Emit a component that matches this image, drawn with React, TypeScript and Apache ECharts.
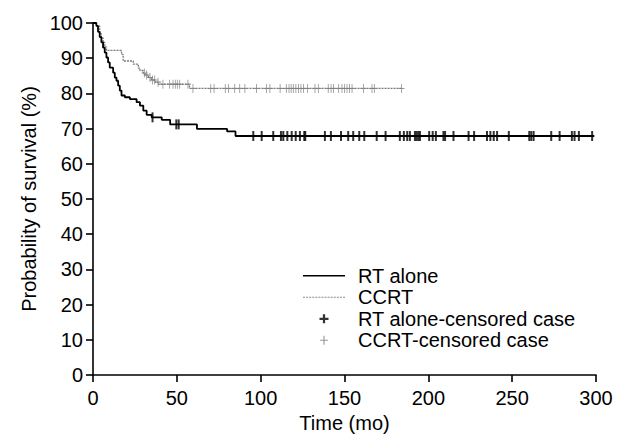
import React, { useEffect, useRef } from "react";
import * as echarts from "echarts";

// Kaplan-Meier step data (time in months, survival %)
const rtTimes = [0, 2, 3, 4, 5, 6, 7, 8, 9, 10, 12, 13, 14, 15, 16, 17, 19, 22, 26, 28, 30, 32, 35, 41, 46, 62, 80, 85, 299];
const rtSurv = [100, 99.2, 97.5, 96, 94.5, 93, 91.6, 90.2, 88.8, 87.3, 85.9, 84.5, 83.6, 82.2, 80.8, 79.4, 78.9, 78.4, 77.5, 76.5, 75.1, 73.9, 73.2, 72.5, 71.2, 69.9, 69.2, 67.9, 67.9];

const ccrtTimes = [0, 2, 4, 5, 6, 7, 8, 17, 18, 24, 27, 28, 30, 31, 33, 35, 37, 39, 57.5, 184];
const ccrtSurv = [100, 99.2, 97, 95.8, 94.5, 93.2, 92.2, 91.1, 89.2, 88.3, 87.2, 86.5, 85.8, 85.2, 84.5, 83.8, 83.2, 82.6, 81.4, 81.4];

// censored cases (time in months)
const rtCensor = [35.5, 49.7, 51.1, 95.6, 100.6, 107.5, 112.1, 113.5, 115.9, 118.5, 120.9, 123.4, 126, 126.6, 138.3, 141.9, 147.9, 152.2, 155.2, 158.8, 161.8, 169.2, 174.5, 183, 185.4, 187.4, 189, 192, 193, 194, 195, 200.5, 202.6, 204.5, 209, 210, 215, 224, 227.3, 235, 237, 239, 241, 248, 260.2, 261.4, 262.8, 273.3, 278.3, 285.6, 287.2, 289.8, 297.7];
const ccrtCensor = [30.8, 32, 34, 35.5, 36.8, 38.8, 41.7, 45.7, 47.7, 49.1, 50.3, 51.7, 56.6, 59.6, 70.2, 72.2, 78.9, 80.8, 84.5, 87.5, 90.6, 97.5, 103.5, 105.5, 111.6, 115.3, 116.9, 118.2, 119.5, 121, 122.6, 124, 125.6, 128, 132.4, 134.4, 140.3, 142, 143.5, 146.5, 148.5, 150, 151.5, 153, 154.5, 161.3, 166.4, 167.8, 184];

const xTicks = { min: 0, max: 300, interval: 50 };
const yTicks = { min: 0, max: 100, interval: 10 };

const seriesNames = ["RT alone", "CCRT", "RT alone-censored case", "CCRT-censored case"];

function survAt(times: number[], surv: number[], t: number): number {
  let v = surv[0];
  for (let i = 0; i < times.length; i++) {
    if (times[i] <= t) v = surv[i];
  }
  return v;
}

const FONT = "Liberation Sans, Arial, sans-serif";

function dottedIcon(): string {
  let d = "path://M0,0h0.01v1.2h-0.01z";
  for (let x = 0; x < 42; x += 3) d += `M${x},0h2v1.2h-2z`;
  return d;
}

export default function App() {
  const ref = useRef<HTMLDivElement>(null);
  useEffect(() => {
    if (!ref.current) return;
    const chart = echarts.init(ref.current, undefined, { renderer: "svg" });
    const rtLine = rtTimes.map((t, i) => [t, rtSurv[i]]);
    const ccrtLine = ccrtTimes.map((t, i) => [t, ccrtSurv[i]]);
    const rtMarks = rtCensor.map((t) => [t, survAt(rtTimes, rtSurv, t)]);
    const ccrtMarks = ccrtCensor.map((t) => [t, survAt(ccrtTimes, ccrtSurv, t)]);
    const plusBlack = "path://M3,0h2v8h-2zM0,3h8v2h-8z";
    const plusGrey = "path://M3,0h1v8h-1zM0,3.5h7v1h-7z";
    const solidIcon = "path://M0,0h42v1.6h-42z";
    chart.setOption({
      animation: false,
      backgroundColor: "#ffffff",
      textStyle: { fontFamily: FONT },
      grid: { left: 93, right: 35, top: 23, bottom: 71, containLabel: false },
      legend: {
        orient: "vertical",
        left: 298,
        top: 260,
        itemWidth: 42,
        itemHeight: 9,
        itemGap: 0,
        selectedMode: false,
        textStyle: { fontFamily: FONT, fontSize: 20, color: "#000", lineHeight: 21.5, padding: [0, 0, 0, 8] },
        data: [
          { name: seriesNames[0], icon: solidIcon, itemStyle: { color: "#000" } },
          { name: seriesNames[1], icon: dottedIcon(), itemStyle: { color: "#8a8a8a" } },
          { name: seriesNames[2], icon: plusBlack },
          { name: seriesNames[3], icon: plusGrey },
        ],
      },
      xAxis: {
        type: "value",
        min: xTicks.min,
        max: xTicks.max,
        interval: xTicks.interval,
        name: "Time (mo)",
        nameLocation: "middle",
        nameGap: 38,
        nameTextStyle: { fontFamily: FONT, fontSize: 20, color: "#000" },
        axisLine: { lineStyle: { color: "#000", width: 1.6 } },
        axisTick: { inside: false, length: 7, lineStyle: { color: "#000", width: 1.6 } },
        axisLabel: { fontFamily: FONT, fontSize: 20, color: "#000", margin: 13 },
        splitLine: { show: false },
      },
      yAxis: {
        type: "value",
        min: yTicks.min,
        max: yTicks.max,
        interval: yTicks.interval,
        name: "Probability of survival (%)",
        nameLocation: "middle",
        nameGap: 43,
        nameRotate: 90,
        nameTextStyle: { fontFamily: FONT, fontSize: 20, color: "#000" },
        axisLine: { show: true, lineStyle: { color: "#000", width: 1.6 } },
        axisTick: { show: true, inside: false, length: 7, lineStyle: { color: "#000", width: 1.6 } },
        axisLabel: { fontFamily: FONT, fontSize: 20, color: "#000", margin: 10 },
        splitLine: { show: false },
      },
      series: [
        {
          name: seriesNames[0],
          type: "line",
          step: "end",
          symbol: "none",
          data: rtLine,
          lineStyle: { color: "#000", width: 1.8 },
          itemStyle: { color: "#000" },
          z: 3,
        },
        {
          name: seriesNames[1],
          type: "line",
          step: "end",
          symbol: "none",
          data: ccrtLine,
          lineStyle: { color: "#7a7a7a", width: 1.3, type: [2, 1] },
          itemStyle: { color: "#7a7a7a" },
          z: 2,
        },
        {
          name: seriesNames[2],
          type: "scatter",
          symbol: "rect",
          symbolSize: [2, 10],
          data: rtMarks,
          itemStyle: { color: "#000" },
          z: 4,
        },
        {
          name: seriesNames[3],
          type: "scatter",
          symbol: plusGrey,
          symbolSize: [6, 9],
          data: ccrtMarks,
          itemStyle: { color: "#808080" },
          z: 4,
        },
      ],
    });
    return () => chart.dispose();
  }, []);
  return (
    <div
      ref={ref}
      style={{ position: "fixed", left: 0, top: 0, width: 631, height: 446, background: "#fff" }}
    />
  );
}
